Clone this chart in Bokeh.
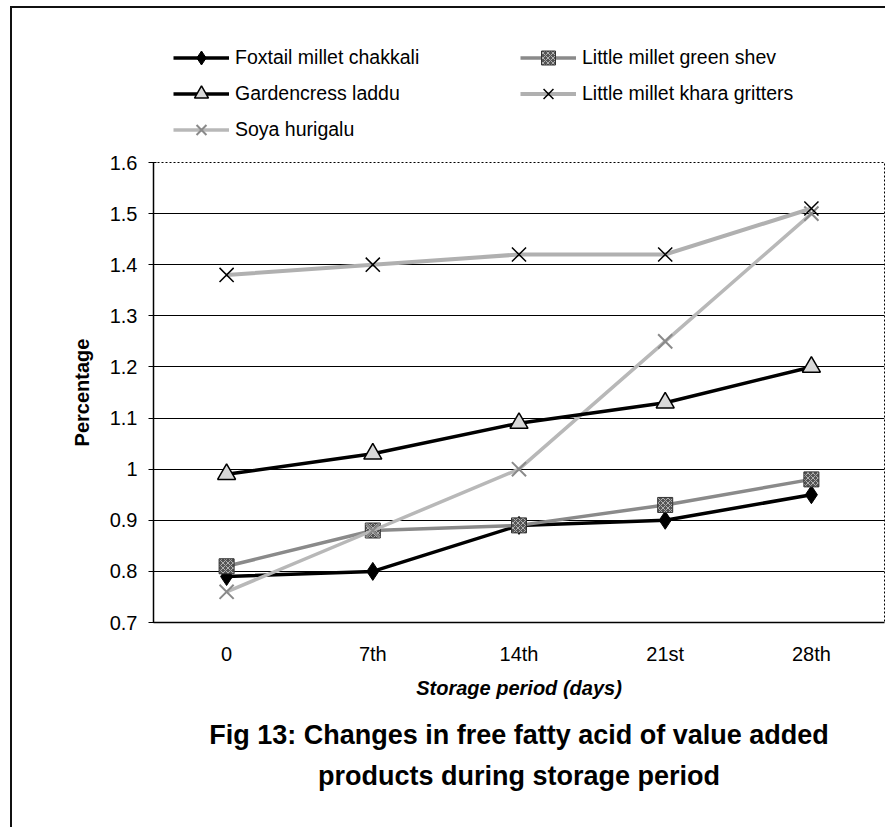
from bokeh.plotting import figure
from bokeh.layouts import column
from bokeh.models import (FactorRange, Range1d, FixedTicker, Legend, LegendItem, Title)
from bokeh.embed import file_html
from bokeh.resources import INLINE

days = ["0", "7th", "14th", "21st", "28th"]
foxtail = [0.79, 0.80, 0.89, 0.90, 0.95]
gardencress = [0.99, 1.03, 1.09, 1.13, 1.20]
green_shev = [0.81, 0.88, 0.89, 0.93, 0.98]
khara = [1.38, 1.40, 1.42, 1.42, 1.51]
soya = [0.76, 0.88, 1.00, 1.25, 1.50]
y_ticks = [0.7, 0.8, 0.9, 1.0, 1.1, 1.2, 1.3, 1.4, 1.5, 1.6]
y_labels = ["0.7", "0.8", "0.9", "1", "1.1", "1.2", "1.3", "1.4", "1.5", "1.6"]

FONT = "Liberation Sans"

styles = {
    "foxtail": dict(line=dict(line_color="black", line_width=3.5),
                    mark=dict(marker="diamond", size=18, fill_color="black", line_color="black")),
    "garden": dict(line=dict(line_color="black", line_width=3.5),
                   mark=dict(marker="triangle", size=18, fill_color="#d8d8d8", line_color="black", line_width=1.5)),
    "shev": dict(line=dict(line_color="#8a8a8a", line_width=3.5),
                 mark=dict(marker="square", size=15, fill_color="#555555", line_color="#333333",
                           hatch_pattern="x", hatch_color="#b0b0b0", hatch_scale=5)),
    "khara": dict(line=dict(line_color="#b0b0b0", line_width=4),
                  mark=dict(marker="x", size=20, line_color="black", line_width=1.5)),
    "soya": dict(line=dict(line_color="#b8b8b8", line_width=3.5),
                 mark=dict(marker="x", size=20, line_color="#8a8a8a", line_width=2)),
}

# ---------- main chart ----------
p = figure(width=885, height=677, x_range=FactorRange(*days), y_range=Range1d(0.7, 1.6),
           output_backend="svg", toolbar_location=None,
           min_border_left=153, min_border_right=1, min_border_top=12, min_border_bottom=205)
p.background_fill_color = "white"
p.border_fill_alpha = 0
p.outline_line_color = "black"
p.outline_line_dash = "2 2"
p.outline_line_width = 1

p.xgrid.grid_line_color = None
p.ygrid.ticker = FixedTicker(ticks=y_ticks[1:-1])
p.ygrid.grid_line_color = "black"
p.ygrid.grid_line_width = 1

p.yaxis.ticker = FixedTicker(ticks=y_ticks)
p.yaxis.major_label_overrides = {t: l for t, l in zip(y_ticks, y_labels)}
p.yaxis.major_tick_out = 5
p.yaxis.major_tick_in = 3
p.yaxis.minor_tick_line_color = None
p.yaxis.major_label_standoff = 11
p.yaxis.axis_label = "Percentage"
p.yaxis.axis_label_standoff = 14
p.yaxis.axis_label_text_font = FONT
p.yaxis.axis_label_text_font_style = "bold"
p.yaxis.axis_label_text_font_size = "20px"
p.yaxis.axis_label_text_color = "black"
p.xaxis.major_tick_line_color = None
p.xaxis.major_label_standoff = 14
for ax in (p.xaxis, p.yaxis):
    ax.axis_line_color = "black"
    ax.axis_line_width = 1.5
    ax.major_label_text_font = FONT
    ax.major_label_text_font_size = "20px"
    ax.major_label_text_color = "black"

p.line(days, foxtail, **styles["foxtail"]["line"])
p.scatter(days, foxtail, **styles["foxtail"]["mark"])
p.line(days, green_shev, **styles["shev"]["line"])
p.scatter(days, green_shev, **styles["shev"]["mark"])
p.line(days, soya, **styles["soya"]["line"])
p.scatter(days, soya, **styles["soya"]["mark"])
p.line(days, gardencress, **styles["garden"]["line"])
p.scatter(days, gardencress, **styles["garden"]["mark"])
p.line(days, khara, **styles["khara"]["line"])
p.scatter(days, khara, **styles["khara"]["mark"])

p.add_layout(Title(text="Storage period (days)", align="center", standoff=14, text_color="black",
                   text_font=FONT, text_font_style="bold italic", text_font_size="20px"), "below")
p.add_layout(Title(text="Fig 13: Changes in free fatty acid of value added",
                   align="center", standoff=24, text_color="black",
                   text_font=FONT, text_font_style="bold", text_font_size="27px"), "below")
p.add_layout(Title(text="products during storage period",
                   align="center", standoff=-6, text_color="black",
                   text_font=FONT, text_font_style="bold", text_font_size="27px"), "below")

# ---------- legend strip ----------
lg = figure(width=885, height=150, x_range=FactorRange(*days), y_range=Range1d(10, 11),
            output_backend="svg", toolbar_location=None,
            min_border_left=0, min_border_right=0, min_border_top=0, min_border_bottom=0)
lg.axis.visible = False
lg.grid.visible = False
lg.outline_line_color = None
lg.background_fill_alpha = 0
lg.border_fill_alpha = 0

series = [("foxtail", "Foxtail millet chakkali", foxtail),
          ("garden", "Gardencress laddu", gardencress),
          ("soya", "Soya hurigalu", soya),
          ("shev", "Little millet green shev", green_shev),
          ("khara", "Little millet khara gritters", khara)]
items = []
for key, label, vals in series:
    rl = lg.line(days, vals, **styles[key]["line"])
    rm = lg.scatter(days, vals, **styles[key]["mark"])
    items.append(LegendItem(label=label, renderers=[rl, rm]))

legend = Legend(items=items, ncols=2, location=(20, 3))
legend.label_text_font = FONT
legend.label_text_font_size = "19.5px"
legend.label_text_color = "black"
legend.label_height = 35
legend.glyph_height = 35
legend.glyph_width = 56
legend.label_standoff = 6
legend.label_width = 284
legend.spacing = 1
legend.padding = 0
legend.margin = 0
legend.border_line_color = None
legend.background_fill_alpha = 0
lg.add_layout(legend, "center")

layout = column(lg, p, spacing=0)
layout.styles = {
    "background-color": "white",
    "background-image": "linear-gradient(#111, #111), linear-gradient(#111, #111)",
    "background-size": "2px 100%, 100% 2px",
    "background-position": "10px 6px, 10px 6px",
    "background-repeat": "no-repeat",
}

open("out.html", "w").write(file_html(layout, INLINE))
